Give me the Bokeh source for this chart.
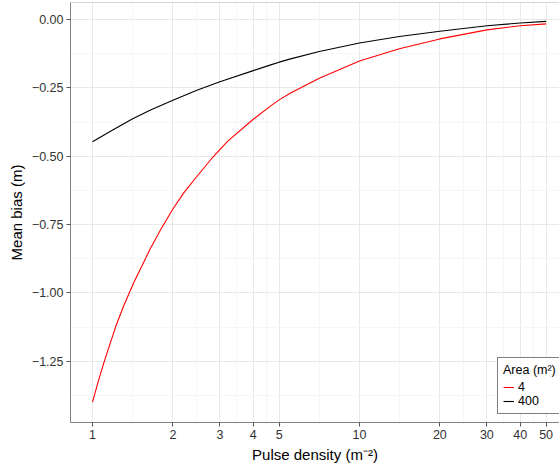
from bokeh.plotting import figure
from bokeh.models import (Range1d, FixedTicker, Span, Legend, LegendItem,
                          PrintfTickFormatter)
from bokeh.embed import file_html
from bokeh.resources import INLINE

# ---- data ----
x_area4 = [1.0, 1.053, 1.109, 1.219, 1.31, 1.428, 1.649, 1.797, 2.0, 2.197,
           2.446, 2.77, 3.0, 3.21, 4.0, 4.65, 5.0, 5.52, 7.07, 10.0, 14.1,
           20.0, 30.0, 40.0, 50.0]
y_area4 = [-1.400, -1.321, -1.248, -1.126, -1.046, -0.962, -0.837, -0.770,
           -0.693, -0.634, -0.577, -0.513, -0.476, -0.445, -0.365, -0.316,
           -0.294, -0.269, -0.215, -0.152, -0.107, -0.071, -0.038, -0.023,
           -0.016]

x_area400 = [1.0, 1.181, 1.414, 1.649, 2.0, 2.46, 3.0, 4.0, 4.65, 5.0, 5.52,
             7.07, 10.0, 14.1, 20.0, 30.0, 40.0, 50.0]
y_area400 = [-0.447, -0.406, -0.363, -0.331, -0.295, -0.259, -0.228, -0.187,
             -0.166, -0.156, -0.144, -0.117, -0.086, -0.062, -0.043, -0.023,
             -0.013, -0.007]

series_labels = ["4", "400"]
series_colors = ["#ff0000", "#000000"]

x_ticks = [1, 2, 3, 4, 5, 10, 20, 30, 40, 50]
x_tick_labels = ["1", "2", "3", "4", "5", "10", "20", "30", "40", "50"]
x_minor = [1.414, 2.449, 3.464, 4.472, 7.071, 14.14, 24.49, 34.64, 44.72]

y_ticks = [0.0, -0.25, -0.5, -0.75, -1.0, -1.25]
y_tick_labels = ["0.00", "\u22120.25", "\u22120.50", "\u22120.75",
                 "\u22121.00", "\u22121.25"]
y_minor = [-0.125, -0.375, -0.625, -0.875, -1.125, -1.375]

FONT = "Liberation Sans"
Y_END = 0.0622

p = figure(width=559, height=468, x_axis_type="log",
           x_range=Range1d(0.8271, 56.12), y_range=Range1d(-1.4742, Y_END),
           output_backend="svg", toolbar_location=None,
           min_border_left=70, min_border_right=0, min_border_top=2,
           min_border_bottom=46)
p.outline_line_color = None
p.background_fill_color = "white"
p.border_fill_color = "white"

r1 = p.line(x_area4, y_area4, line_color=series_colors[0], line_width=1.1,
            line_join="round")
r2 = p.line(x_area400, y_area400, line_color=series_colors[1], line_width=1.1,
            line_join="round")

xt = FixedTicker(ticks=x_ticks, minor_ticks=x_minor)
yt = FixedTicker(ticks=y_ticks, minor_ticks=y_minor)
p.xaxis.ticker = xt
p.yaxis.ticker = yt
p.xgrid.ticker = xt
p.ygrid.ticker = yt
p.xaxis.formatter = PrintfTickFormatter(format="%d")
p.xaxis.major_label_overrides = dict(zip(x_ticks, x_tick_labels))
p.yaxis.major_label_overrides = dict(zip(y_ticks, y_tick_labels))

for g in (p.xgrid, p.ygrid):
    g.grid_line_color = "#e8e8e8"
    g.grid_line_width = 1
    g.minor_grid_line_color = "#f5f5f5"
    g.minor_grid_line_width = 1

for ax in (p.xaxis, p.yaxis):
    ax.axis_line_color = "#808080"
    ax.axis_line_width = 1
    ax.major_tick_line_color = "#555555"
    ax.major_tick_in = 0
    ax.major_tick_out = 4
    ax.minor_tick_line_color = None
    ax.major_label_text_font = FONT
    ax.major_label_text_font_size = "12.5px"
    ax.major_label_text_color = "#333333"
    ax.axis_label_text_font = FONT
    ax.axis_label_text_font_size = "15px"
    ax.axis_label_text_font_style = "normal"
    ax.axis_label_text_color = "#000000"

p.xaxis.axis_label = "Pulse density (m\u207b\u00b2)"
p.yaxis.axis_label = "Mean bias (m)"
p.xaxis.major_label_standoff = 3
p.yaxis.major_label_standoff = 3
p.xaxis.axis_label_standoff = 4
p.yaxis.axis_label_standoff = 4

top_border = Span(location=Y_END, dimension="width", line_color="#b0b0b0",
                  line_width=1)
p.add_layout(top_border)

legend = Legend(items=[LegendItem(label=series_labels[0], renderers=[r1]),
                       LegendItem(label=series_labels[1], renderers=[r2])],
                title="Area (m\u00b2)", location=(427, 8))
legend.title_text_font = FONT
legend.title_text_font_size = "12.5px"
legend.title_text_font_style = "normal"
legend.title_text_color = "#000000"
legend.title_standoff = 3
legend.label_text_font = FONT
legend.label_text_font_size = "12.5px"
legend.label_text_color = "#000000"
legend.border_line_color = "#000000"
legend.border_line_width = 1
legend.background_fill_color = "white"
legend.background_fill_alpha = 1
legend.padding = 5
legend.margin = 0
legend.spacing = 0
legend.glyph_width = 11
legend.glyph_height = 14
legend.label_height = 14
legend.label_standoff = 4
p.add_layout(legend)

open("out.html", "w").write(file_html(p, INLINE))
